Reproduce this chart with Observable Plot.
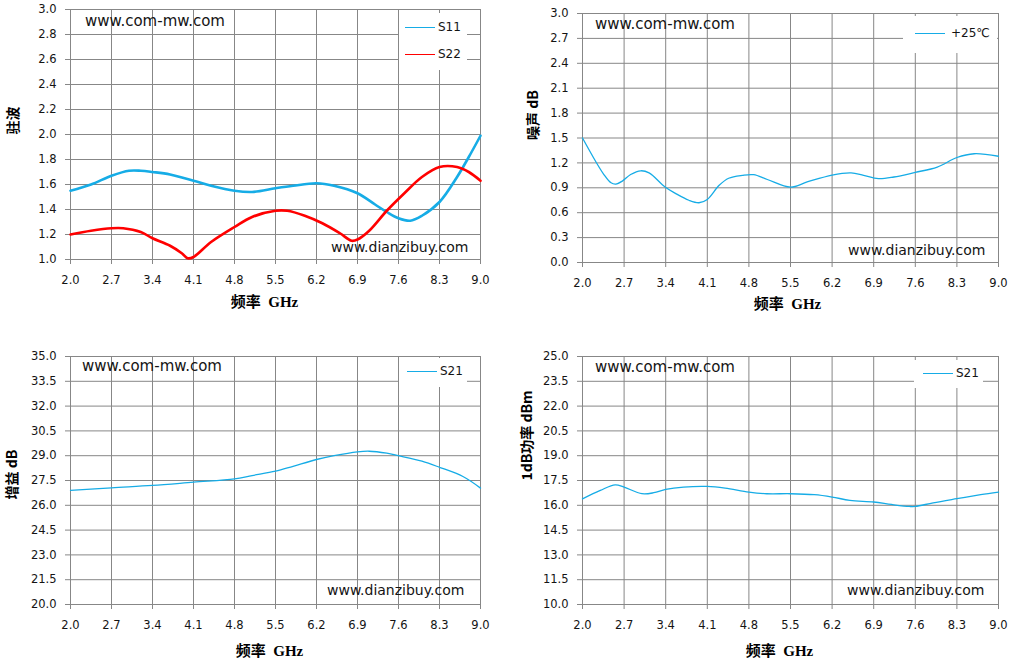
<!DOCTYPE html>
<html><head><meta charset="utf-8">
<script src="https://cdn.jsdelivr.net/npm/d3@7"></script>
<script src="https://cdn.jsdelivr.net/npm/@observablehq/plot@0.6"></script>
<style>
body{margin:0;background:#fff}
#wrap{position:relative;width:1013px;height:666px;overflow:hidden;background:#fff}
#wrap svg{position:absolute;overflow:visible}
.wm{position:absolute;font-family:"DejaVu Sans";color:#141414;white-space:nowrap;line-height:1}
.lg{position:absolute;background:#fff}
.sw{position:absolute;height:0}
.lt{position:absolute;font:12px "DejaVu Sans","Noto Sans CJK SC";color:#141414;line-height:1;white-space:nowrap}
</style></head>
<body><div id="wrap"></div>
<script>
// ---- data ----
const xTicks = [2.0, 2.7, 3.4, 4.1, 4.8, 5.5, 6.2, 6.9, 7.6, 8.3, 9.0];

const s11Freq = [2.0, 2.35, 2.7, 3.0, 3.2, 3.4, 3.7, 4.1, 4.4, 4.8, 5.1, 5.5, 5.8, 6.2, 6.5, 6.9, 7.2, 7.4, 7.6, 7.8, 8.0, 8.3, 8.6, 8.8, 9.0];
const s11Val  = [1.55, 1.60, 1.67, 1.71, 1.71, 1.70, 1.68, 1.63, 1.59, 1.55, 1.54, 1.57, 1.59, 1.61, 1.59, 1.53, 1.44, 1.38, 1.33, 1.31, 1.35, 1.46, 1.66, 1.82, 1.99];
const s22Freq = [2.0, 2.35, 2.7, 2.9, 3.2, 3.4, 3.7, 3.9, 4.0, 4.1, 4.4, 4.8, 5.1, 5.5, 5.7, 6.0, 6.3, 6.6, 6.8, 6.9, 7.1, 7.4, 7.7, 8.0, 8.3, 8.6, 8.8, 9.0];
const s22Val  = [1.20, 1.23, 1.25, 1.25, 1.22, 1.17, 1.11, 1.05, 1.01, 1.02, 1.14, 1.26, 1.34, 1.39, 1.39, 1.35, 1.29, 1.21, 1.15, 1.16, 1.23, 1.39, 1.53, 1.66, 1.74, 1.74, 1.70, 1.63];

const nfFreq = [2.0, 2.22, 2.36, 2.48, 2.56, 2.67, 2.81, 2.98, 3.12, 3.39, 3.57, 3.79, 3.96, 4.1, 4.3, 4.46, 4.69, 4.88, 5.11, 5.5, 5.78, 6.2, 6.52, 6.73, 6.98, 7.24, 7.6, 7.97, 8.3, 8.59, 9.0];
const nfVal  = [1.50, 1.22, 1.06, 0.96, 0.945, 0.98, 1.06, 1.105, 1.08, 0.91, 0.83, 0.75, 0.72, 0.76, 0.93, 1.015, 1.05, 1.058, 1.0, 0.908, 0.97, 1.054, 1.08, 1.05, 1.01, 1.03, 1.086, 1.15, 1.265, 1.31, 1.28];

const gainFreq = [2.0, 2.7, 3.4, 4.1, 4.8, 5.1, 5.5, 5.8, 6.2, 6.5, 6.9, 7.1, 7.4, 7.6, 8.0, 8.3, 8.7, 9.0];
const gainVal  = [26.9, 27.06, 27.2, 27.4, 27.6, 27.8, 28.06, 28.36, 28.77, 29.0, 29.23, 29.27, 29.15, 29.0, 28.67, 28.3, 27.74, 27.04];

const p1Freq = [2.0, 2.3, 2.55, 2.7, 3.0, 3.2, 3.4, 3.7, 4.1, 4.4, 4.8, 5.1, 5.5, 5.9, 6.2, 6.5, 6.9, 7.2, 7.5, 7.6, 7.9, 8.3, 8.7, 9.0];
const p1Val  = [16.39, 16.9, 17.24, 17.1, 16.7, 16.76, 16.96, 17.1, 17.14, 17.04, 16.8, 16.7, 16.7, 16.64, 16.5, 16.3, 16.2, 16.05, 15.93, 15.93, 16.15, 16.4, 16.64, 16.8];

const yTicks1 = [1.0, 1.2, 1.4, 1.6, 1.8, 2.0, 2.2, 2.4, 2.6, 2.8, 3.0];
const yTicks2 = [0.0, 0.3, 0.6, 0.9, 1.2, 1.5, 1.8, 2.1, 2.4, 2.7, 3.0];
const yTicks3 = [20.0, 21.5, 23.0, 24.5, 26.0, 27.5, 29.0, 30.5, 32.0, 33.5, 35.0];
const yTicks4 = [10.0, 11.5, 13.0, 14.5, 16.0, 17.5, 19.0, 20.5, 22.0, 23.5, 25.0];

const xLabel = "频率  GHz";
const yLabels = ["驻波", "噪声 dB", "增益 dB", "1dB功率 dBm"];
const BLUE = "#16ACE6", RED = "#FF0000", GRID = "#878787";

const zip = (fs, vs) => fs.map((f, i) => ({f, v: vs[i]}));
const wrap = document.getElementById("wrap");

function chart(o) {
  const marks = [
    Plot.gridX(xTicks, {stroke: GRID, strokeOpacity: 1, strokeWidth: 1}),
    Plot.gridY(o.yTicks, {stroke: GRID, strokeOpacity: 1, strokeWidth: 1}),
    Plot.axisX(xTicks, {tickSize: 5, tickPadding: 11, tickFormat: d3.format(".1f"), stroke: GRID, fill: "#141414", label: null}),
    Plot.axisY(o.yTicks, {tickSize: 5, tickPadding: 9, tickFormat: d3.format(".1f"), stroke: GRID, fill: "#141414", label: null}),
    ...o.series.map(s => Plot.line(zip(s.f, s.v), {x: "f", y: "v", stroke: s.color, strokeWidth: s.w, curve: "catmull-rom"})),
    Plot.text([o.ylabel], {text: d => d, frameAnchor: "left", dx: o.ydx, dy: o.ydy, rotate: -90, fontWeight: "bold", fontSize: 14, fill: "#000", fontFamily: "'Noto Sans CJK SC'"}),
    Plot.text([xLabel], {text: d => d, frameAnchor: "bottom", dx: o.xdx, dy: o.xdy, fontWeight: "bold", fontSize: 15, fill: "#000", fontFamily: "'Liberation Serif','Noto Sans CJK SC'"})
  ];
  const svg = Plot.plot({
    width: o.width, height: o.height,
    marginLeft: o.ml, marginRight: o.mr, marginTop: o.mt, marginBottom: o.mb,
    x: {domain: [2, 9]},
    y: {domain: o.yDomain},
    style: {fontFamily: "DejaVu Sans", fontSize: "11.5px", background: "transparent", overflow: "visible"},
    marks
  });
  svg.style.left = o.left + "px";
  svg.style.top = o.top + "px";
  wrap.appendChild(svg);
}

chart({left: 0, top: 0, width: 506, height: 333, ml: 70, mr: 26, mt: 9, mb: 74,
  yDomain: [1, 3], yTicks: yTicks1, ylabel: yLabels[0], ydx: -57, ydy: 0, xdx: -11, xdy: 47,
  series: [{f: s11Freq, v: s11Val, color: BLUE, w: 2.6}, {f: s22Freq, v: s22Val, color: RED, w: 2.6}]});
chart({left: 506, top: 0, width: 507, height: 333, ml: 76, mr: 15, mt: 13, mb: 71,
  yDomain: [0, 3], yTicks: yTicks2, ylabel: yLabels[1], ydx: -49, ydy: 2, xdx: -3, xdy: 46,
  series: [{f: nfFreq, v: nfVal, color: BLUE, w: 1.3}]});
chart({left: 0, top: 333, width: 506, height: 333, ml: 70, mr: 26, mt: 23, mb: 62,
  yDomain: [20, 35], yTicks: yTicks3, ylabel: yLabels[2], ydx: -58, ydy: 19, xdx: -6, xdy: 51,
  series: [{f: gainFreq, v: gainVal, color: BLUE, w: 1.3}]});
chart({left: 506, top: 333, width: 507, height: 333, ml: 76, mr: 15, mt: 23, mb: 62,
  yDomain: [10, 25], yTicks: yTicks4, ylabel: yLabels[3], ydx: -55, ydy: 0, xdx: -11, xdy: 51,
  series: [{f: p1Freq, v: p1Val, color: BLUE, w: 1.3}]});

// ---- watermarks ----
function wm(text, left, top, size) {
  const d = document.createElement("div");
  d.className = "wm"; d.textContent = text;
  d.style.left = left + "px"; d.style.top = top + "px"; d.style.fontSize = size + "px";
  wrap.appendChild(d);
}
wm("www.com-mw.com", 85, 14, 15);  wm("www.dianzibuy.com", 331, 240, 14);
wm("www.com-mw.com", 595, 17, 15); wm("www.dianzibuy.com", 848, 243, 14);
wm("www.com-mw.com", 82, 359, 15); wm("www.dianzibuy.com", 327, 583, 14);
wm("www.com-mw.com", 595, 360, 15); wm("www.dianzibuy.com", 847, 583, 14);

// ---- legends ----
function legend(box, items) {
  const b = document.createElement("div");
  b.className = "lg";
  Object.assign(b.style, {left: box[0] + "px", top: box[1] + "px", width: box[2] + "px", height: box[3] + "px"});
  wrap.appendChild(b);
  for (const it of items) {
    const s = document.createElement("div");
    s.className = "sw";
    Object.assign(s.style, {left: it.x + "px", top: (it.y - 0.75) + "px", width: "30px", borderTop: "1.5px solid " + it.color});
    wrap.appendChild(s);
    const t = document.createElement("div");
    t.className = "lt"; t.textContent = it.label;
    Object.assign(t.style, {left: (it.x + (it.gap || 33)) + "px", top: (it.y - 7) + "px"});
    wrap.appendChild(t);
  }
}
legend([399, 13, 68, 57], [{x: 405, y: 28, color: BLUE, label: "S11"}, {x: 405, y: 55, color: RED, label: "S22"}]);
legend([903, 16, 94, 37], [{x: 915, y: 34, color: BLUE, label: "+25℃", gap: 36}]);
legend([399, 358, 68, 29], [{x: 407, y: 372, color: BLUE, label: "S21"}]);
legend([914, 360, 69, 28], [{x: 923, y: 374, color: BLUE, label: "S21"}]);
</script>
</body></html>
